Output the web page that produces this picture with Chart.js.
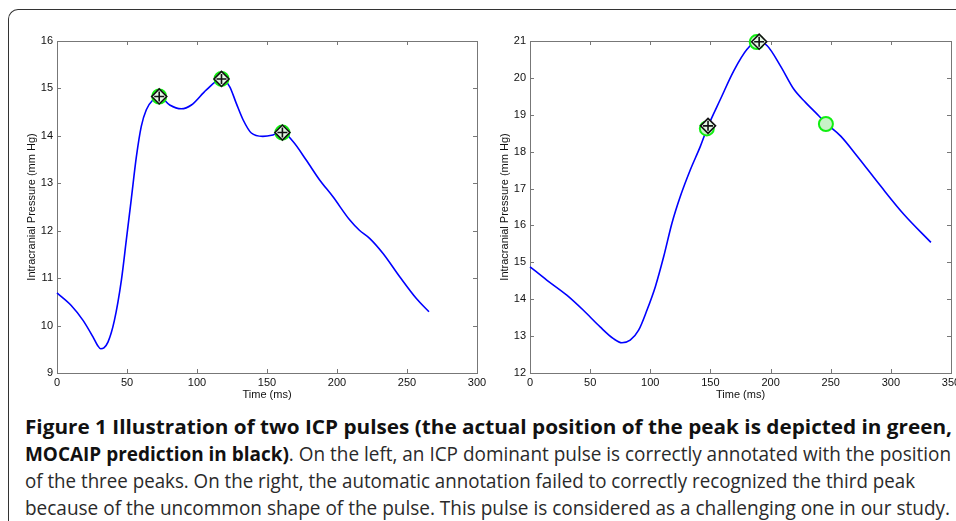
<!DOCTYPE html>
<html>
<head>
<meta charset="utf-8">
<script src="https://cdn.jsdelivr.net/npm/chart.js"></script>
<style>
  html, body { margin: 0; padding: 0; background: #fff; width: 956px; height: 521px; overflow: hidden; }
  #frame { position: absolute; left: 8px; top: 9px; width: 1000px; height: 600px;
           border-left: 1.5px solid #333; border-top: 1.5px solid #333; border-top-left-radius: 10px; }
  .plot { position: absolute; top: 0; height: 405px; }
  #leftBox { left: 0; width: 492px; }
  #rightBox { left: 482px; width: 490px; }
  .cap { position: absolute; left: 25px; white-space: nowrap; font-family: "Open Sans", sans-serif;
         font-size: 20px; line-height: 27px; color: #2a2a2a; transform-origin: 0 0; }
  .cap b { color: #111; font-weight: 700; }
</style>
</head>
<body>
<div id="frame"></div>
<div class="plot" id="leftBox"><canvas id="leftChart"></canvas></div>
<div class="plot" id="rightBox"><canvas id="rightChart"></canvas></div>
<div class="cap" id="cap1" style="top:413px" data-w="927"><b>Figure 1 Illustration of two ICP pulses (the actual position of the peak is depicted in green,</b></div>
<div class="cap" id="cap2" style="top:440px" data-w="926"><b>MOCAIP prediction in black)</b>. On the left, an ICP dominant pulse is correctly annotated with the position</div>
<div class="cap" id="cap3" style="top:467px" data-w="890">of the three peaks. On the right, the automatic annotation failed to correctly recognized the third peak</div>
<div class="cap" id="cap4" style="top:494px" data-w="925">because of the uncommon shape of the pulse. This pulse is considered as a challenging one in our study.</div>
<script>
// left pulse (dominant pulse, three peaks found)
const leftTime = [0, 10, 18.6, 25.7, 29, 31.2, 33.5, 36.4, 41, 46, 49.5, 53, 56.7, 60.2, 63.8, 68.6, 73, 80.5, 88.8, 96, 106.7, 117.5,
  123.3, 128, 132.9, 138.8, 147, 154.3, 161, 168.6, 178, 187.6, 197, 209, 216, 223.3, 232.9, 244.8, 256.7, 265.7];
const leftIcp = [10.69, 10.43, 10.11, 9.76, 9.58, 9.51, 9.53, 9.65, 10.11, 10.96, 11.8, 12.65, 13.56, 14.2, 14.55, 14.76, 14.83, 14.65, 14.57, 14.65, 14.97, 15.2,
  15.04, 14.69, 14.34, 14.06, 13.99, 14.02, 14.08, 13.88, 13.49, 13.07, 12.72, 12.23, 12.01, 11.84, 11.52, 11.03, 10.57, 10.29];
const leftActualT = [73, 117.5, 161];
const leftActualV = [14.83, 15.2, 14.07];
const leftPredT = [73, 117.5, 161];
const leftPredV = [14.83, 15.2, 14.07];

// right pulse (challenging one)
const rightTime = [0, 13.9, 30.6, 44.4, 58.3, 69.4, 76.4, 83.3, 90.3, 97.2, 104.2, 111.1, 118, 125, 133.3, 141.7, 148, 158.3,
  169.4, 180.6, 188.9, 197.2, 208.3, 219.4, 229.2, 238.9, 246.4, 258.3, 272.2, 291.7, 311.1, 333.3];
const rightIcp = [14.88, 14.52, 14.11, 13.7, 13.25, 12.93, 12.82, 12.89, 13.16, 13.7, 14.34, 15.15, 16.06, 16.79, 17.51, 18.15, 18.69, 19.42,
  20.19, 20.78, 21.0, 20.87, 20.32, 19.69, 19.33, 19.01, 18.76, 18.42, 17.87, 17.06, 16.29, 15.54];
const rightActualT = [147, 188.5, 246];
const rightActualV = [18.63, 20.97, 18.75];
const rightPredT = [148, 190.5];
const rightPredV = [18.7, 20.98];

const leftXTicks = [0, 50, 100, 150, 200, 250, 300];
const leftYTicks = [9, 10, 11, 12, 13, 14, 15, 16];
const rightXTicks = [0, 50, 100, 150, 200, 250, 300, 350];
const rightYTicks = [12, 13, 14, 15, 16, 17, 18, 19, 20, 21];

const FONT = "'Liberation Sans', Arial, sans-serif";

function pts(xs, ys) {
  return xs.map((x, i) => ({ x: x, y: ys[i] }));
}

// matlab like box with inward ticks on all four sides
const boxPlugin = {
  id: 'boxPlugin',
  beforeDatasetsDraw(chart) {
    const { ctx, chartArea: a, scales } = chart;
    ctx.save();
    ctx.strokeStyle = '#777';
    ctx.lineWidth = 1;
    ctx.strokeRect(Math.round(a.left) + 0.5, Math.round(a.top) + 0.5, Math.round(a.right - a.left), Math.round(a.bottom - a.top));
    ctx.beginPath();
    scales.x.ticks.forEach(t => {
      const px = Math.round(scales.x.getPixelForValue(t.value)) + 0.5;
      ctx.moveTo(px, a.bottom); ctx.lineTo(px, a.bottom - 4);
      ctx.moveTo(px, a.top); ctx.lineTo(px, a.top + 4);
    });
    scales.y.ticks.forEach(t => {
      const py = Math.round(scales.y.getPixelForValue(t.value)) + 0.5;
      ctx.moveTo(a.left, py); ctx.lineTo(a.left + 4, py);
      ctx.moveTo(a.right, py); ctx.lineTo(a.right - 4, py);
    });
    ctx.stroke();
    ctx.restore();
  }
};

function makeChart(id, cfg) {
  const datasets = [
    { data: pts(cfg.t, cfg.v), showLine: true, borderColor: '#0000ff', borderWidth: 1.6, pointRadius: 0,
      cubicInterpolationMode: 'monotone', clip: false, order: 4 },
    { data: pts(cfg.at, cfg.av), showLine: false, pointStyle: 'circle', pointRadius: 7, borderWidth: 2,
      pointBorderColor: '#11ee11', pointBackgroundColor: '#c8f2c8', clip: false, order: 3 },
    { data: pts(cfg.pt, cfg.pv), showLine: false, pointStyle: 'rectRot', pointRadius: 7.5, pointBorderWidth: 1.6,
      pointBorderColor: '#111', pointBackgroundColor: '#e4f7e4', clip: false, order: 2 },
    { data: pts(cfg.pt, cfg.pv), showLine: false, pointStyle: 'cross', pointRadius: 5, pointBorderWidth: 1.6,
      pointBorderColor: '#111', clip: false, order: 1 }
  ];
  return new Chart(document.getElementById(id), {
    type: 'scatter',
    data: { datasets: datasets },
    options: {
      responsive: true,
      maintainAspectRatio: false,
      animation: false,
      events: [],
      layout: { padding: { top: 41, right: cfg.padRight, left: 0, bottom: 0 } },
      plugins: { legend: { display: false }, tooltip: { enabled: false } },
      scales: {
        x: {
          type: 'linear', min: cfg.xTicks[0], max: cfg.xTicks[cfg.xTicks.length - 1],
          afterBuildTicks: s => { s.ticks = cfg.xTicks.map(v => ({ value: v })); },
          afterFit: s => { s.height = 32; },
          grid: { display: false, drawTicks: false }, border: { display: false },
          ticks: { autoSkip: false, maxRotation: 0, padding: 3, color: '#111', font: { family: FONT, size: 11 } },
          title: { display: true, text: 'Time (ms)', color: '#111', padding: { top: 0, bottom: 3 }, font: { family: FONT, size: 11 } }
        },
        y: {
          type: 'linear', min: cfg.yTicks[0], max: cfg.yTicks[cfg.yTicks.length - 1],
          afterBuildTicks: s => { s.ticks = cfg.yTicks.map(v => ({ value: v })); },
          afterFit: s => { s.width = cfg.yWidth; },
          grid: { display: false, drawTicks: false }, border: { display: false },
          ticks: { autoSkip: false, padding: 4, color: '#111', font: { family: FONT, size: 11 } },
          title: { display: true, text: 'Intracranial Pressure (mm Hg)', color: '#111', padding: { top: cfg.titlePad, bottom: 0 },
                   font: { family: FONT, size: 11 } }
        }
      }
    },
    plugins: [boxPlugin]
  });
}

makeChart('leftChart', { t: leftTime, v: leftIcp, at: leftActualT, av: leftActualV, pt: leftPredT, pv: leftPredV,
  xTicks: leftXTicks, yTicks: leftYTicks, yWidth: 57, padRight: 15, titlePad: 25 });
makeChart('rightChart', { t: rightTime, v: rightIcp, at: rightActualT, av: rightActualV, pt: rightPredT, pv: rightPredV,
  xTicks: rightXTicks, yTicks: rightYTicks, yWidth: 48, padRight: 21, titlePad: 16 });

// squeeze the caption lines to the condensed width of the original
document.querySelectorAll('.cap').forEach(el => {
  const w = el.getBoundingClientRect().width;
  el.style.transform = 'scaleX(' + (parseFloat(el.dataset.w) / w) + ')';
});
</script>
</body>
</html>
